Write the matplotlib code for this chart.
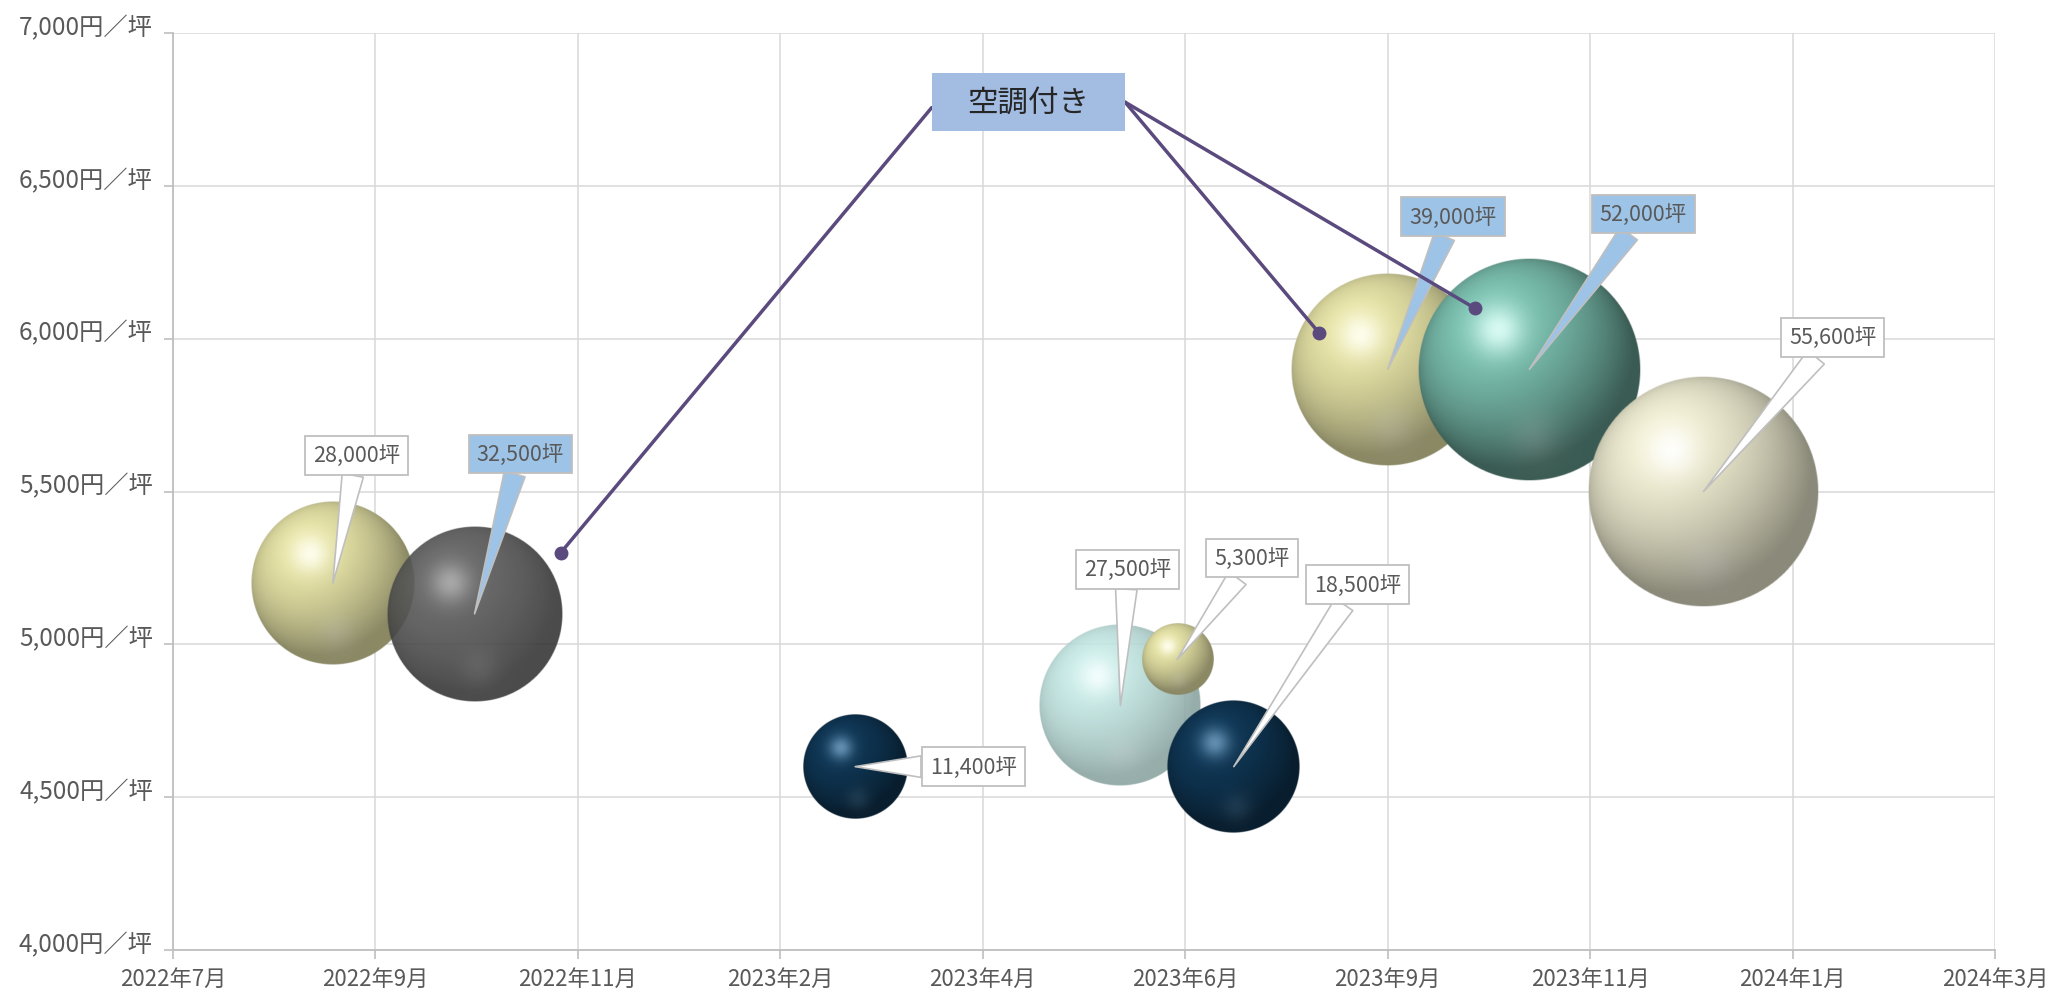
import numpy as np
import matplotlib
matplotlib.use("Agg")
import matplotlib.pyplot as plt
from matplotlib.ticker import FuncFormatter
from matplotlib.colors import to_rgb
from matplotlib.patches import Rectangle
from matplotlib.transforms import ScaledTranslation

plt.rcParams['font.family'] = ['Noto Sans CJK JP', 'DejaVu Sans']

# x軸の目盛り
x_labels = ["2022年7月", "2022年9月", "2022年11月", "2023年2月", "2023年4月",
            "2023年6月", "2023年9月", "2023年11月", "2024年1月", "2024年3月"]
y_ticks = [4000, 4500, 5000, 5500, 6000, 6500, 7000]

# バブルのデータ (x位置, 賃料 円/坪, 面積 坪)
bubble_x = [0.79, 1.49, 3.37, 4.68, 4.96, 5.24, 6.00, 6.70, 7.56]
bubble_y = [5200, 5100, 4600, 4800, 4950, 4600, 5900, 5900, 5500]
bubble_area = [28000, 32500, 11400, 27500, 5300, 18500, 39000, 52000, 55600]
air_con = [False, True, False, False, False, False, True, True, False]

# 空調付きの指し示す点
aircon_x = [1.916, 5.66, 6.43]
aircon_y = [5300, 6020, 6100]

# 色 (中間色, ハイライト, 不透明度, 環境光)
YELLOW = ("#e0dda2", "#fffff2", 1.0, 0.62)
GRAY = ("#585858", "#a4a4a4", 0.9, 0.62)
NAVY = ("#0f3654", "#6a96b8", 1.0, 0.55)
CYAN = ("#bde2de", "#f4fffe", 0.88, 0.72)
TEAL = ("#7abfae", "#e0fff8", 1.0, 0.48)
CREAM = ("#e9e7cc", "#ffffff", 1.0, 0.6)
bubble_style = [YELLOW, GRAY, NAVY, CYAN, YELLOW, NAVY, YELLOW, TEAL, CREAM]

# ラベルのオフセット (points)
label_offset = [(17, 92), (33, 115), (85, 0), (5, 98), (54, 73), (89, 131),
                (47, 110), (82, 112), (93, 111)]

RADIUS_K = 0.488  # pixel radius per sqrt(坪)


def sphere_image(mid, hi, alpha, amb, n=300):
    mid = np.array(to_rgb(mid))
    hi = np.array(to_rgb(hi))
    t = np.linspace(-1, 1, n)
    u, v = np.meshgrid(t, t)
    rho2 = u ** 2 + v ** 2
    z = np.sqrt(np.clip(1 - rho2, 0, 1))
    L = np.array([-0.35, 0.45, 0.82])
    L = L / np.linalg.norm(L)
    d = np.clip(u * L[0] + v * L[1] + z * L[2], 0, 1)
    spec = np.exp(-((u + 0.28) ** 2 + (v - 0.36) ** 2) / 0.05)
    bottom = np.exp(-((u - 0.05) ** 2 + (v + 0.62) ** 2) / 0.05)
    shade = amb + (1.05 - amb) * d ** 1.3
    col = mid[None, None, :] * shade[..., None]
    col = col + (hi - col) * (spec[..., None] * 0.9)
    col = col + (hi - mid)[None, None, :] * bottom[..., None] * 0.2
    col = np.clip(col, 0, 1)
    rho = np.sqrt(rho2)
    a = np.clip((1 - rho) * n / 2, 0, 1) * alpha
    return np.dstack([col, a])


fig = plt.figure(figsize=(20.51, 9.95), dpi=100)
ax = fig.add_axes([0.0843, 0.0442, 0.8884, 0.9216])
ax.set_xlim(0, len(x_labels) - 1)
ax.set_ylim(4000, 7000)

ax.set_xticks(range(len(x_labels)))
ax.set_xticklabels(x_labels)
ax.set_yticks(y_ticks)
ax.yaxis.set_major_formatter(FuncFormatter(lambda v, p: f"{v:,.0f}円／坪"))
ax.grid(True, color="#d9d9d9", lw=1.1)
ax.set_axisbelow(True)
for side in ["top", "right"]:
    ax.spines[side].set_visible(False)
for side in ["left", "bottom"]:
    ax.spines[side].set_color("#bfbfbf")
    ax.spines[side].set_linewidth(1.3)
ax.tick_params(axis="both", colors="#bfbfbf", labelcolor="#595959",
               length=6.5, width=1.2, labelsize=16)
ax.tick_params(axis="y", pad=8, labelsize=17.5)
ax.tick_params(axis="x", pad=6)
# y目盛りラベルは少し上にずらす
for lab in ax.get_yticklabels():
    lab.set_transform(lab.get_transform() + ScaledTranslation(0, 6.5 / 72, fig.dpi_scale_trans))

# バブル
for i, (x, y, a) in enumerate(zip(bubble_x, bubble_y, bubble_area)):
    r = RADIUS_K * np.sqrt(a)
    cx, cy = ax.transData.transform((x, y))
    (x0, y0), (x1, y1) = ax.transData.inverted().transform([(cx - r, cy - r), (cx + r, cy + r)])
    mid, hi, alpha, amb = bubble_style[i]
    ax.imshow(sphere_image(mid, hi, alpha, amb), extent=(x0, x1, y0, y1), origin="lower",
              aspect="auto", interpolation="bilinear", zorder=2 + i * 0.01)

ax.set_xlim(0, len(x_labels) - 1)
ax.set_ylim(4000, 7000)

# データラベル
for i, (x, y, a) in enumerate(zip(bubble_x, bubble_y, bubble_area)):
    fc = "#9dc3e6" if air_con[i] else "white"
    ax.annotate(f"{a:,}坪", xy=(x, y), xytext=label_offset[i], textcoords="offset points",
                ha="center", va="center", fontsize=15.5, color="#595959", zorder=5,
                bbox=dict(boxstyle="square,pad=0.38", fc=fc, ec="#bfbfbf", lw=1.3),
                arrowprops=dict(arrowstyle="wedge,tail_width=1.0,shrink_factor=0.5",
                                fc=fc, ec="#bfbfbf", lw=1.2, shrinkA=0, shrinkB=0))

# 空調付き 吹き出し
purple = "#5b4a7e"
anchors = [(3.748, 6756), (4.703, 6774), (4.703, 6774)]
for (ax0, ay0), px, py in zip(anchors, aircon_x, aircon_y):
    ax.plot([ax0, px], [ay0, py], color=purple, lw=2.5, zorder=6, solid_capstyle="round")
ax.plot(aircon_x, aircon_y, "o", color=purple, ms=9, zorder=6, ls="none")
ax.add_patch(Rectangle((3.748, 6679), 0.955, 189, fc="#a3bce2", ec="none", zorder=7))
ax.text(4.226, 6773, "空調付き", ha="center", va="center", fontsize=22, color="#262626",
        zorder=8)

fig.savefig("out.png", dpi=100)
